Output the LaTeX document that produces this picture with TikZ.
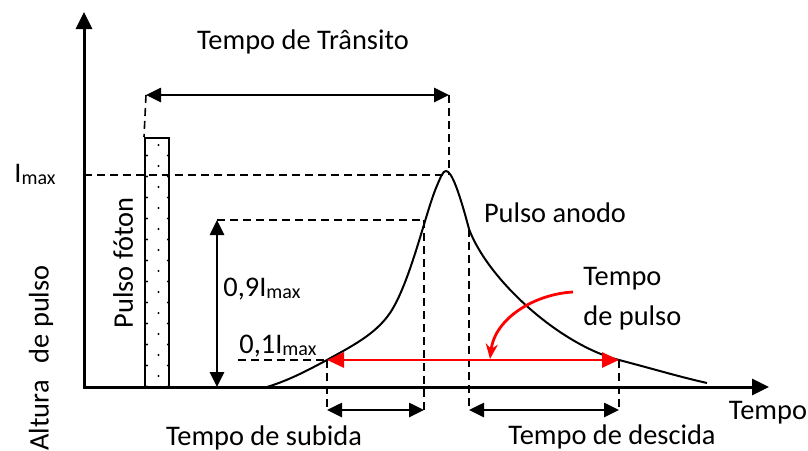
\documentclass[tikz,border=0pt]{standalone}
\usepackage{fontspec}
\setmainfont{Carlito}
\usepackage{tikz}
\usetikzlibrary{
  arrows.meta,
  positioning
}
\definecolor{inkblack}{RGB}{0,0,0}
\definecolor{pulsered}{RGB}{255,0,0}
\newcommand{\lbfont}{\fontsize{14.2}{20}\selectfont}
\newcommand{\Imx}{I\raisebox{-1pt}{\fontsize{10}{11}\selectfont max}}
\tikzset{
  axis/.style={line width=1.5pt,draw=inkblack,
    -{Triangle[length=8.5pt,width=8pt]}},
  guide/.style={line width=0.8pt,draw=inkblack,dash pattern=on 4pt off 2.5pt},
  dimline/.style={line width=1.3pt,draw=inkblack,
    {Triangle[length=7.5pt,width=7pt]}-{Triangle[length=7.5pt,width=7pt]}},
  redline/.style={line width=1.4pt,draw=pulsered,
    {Triangle[length=8.5pt,width=7.5pt]}-{Triangle[length=8.5pt,width=7.5pt]}},
  redbend/.style={line width=1.4pt,draw=pulsered,
    -{Stealth[length=7.5pt,width=6pt]}},
  lab/.style={font=\lbfont,inner sep=1pt,text=inkblack},
  photon/.style={draw=inkblack,line width=1pt,fill=white,
    minimum width=12pt,minimum height=124.5pt,inner sep=0pt}
}

\begin{document}
\begin{tikzpicture}[x=0.5pt,y=-0.5pt]
  \useasboundingbox (0,0) rectangle (808,450);
  % axes
  \coordinate (o) at (84,387);
  \coordinate (ytop) at (84,12);
  \coordinate (xend) at (769,387);
  \draw[axis] (o)--(ytop);
  \draw[axis] ([xshift=-0.75pt]o)--(xend);
  % photon pulse
  \node[photon] (pf) at (157,262.5) {};
  \foreach \k in {0,...,11}{
    \fill (158.5,145+21*\k) circle (0.6pt);
    \fill (147,155.5+21*\k) circle (0.6pt);
    \fill (168,155.5+21*\k) circle (0.6pt);
  }
  % anode pulse
  \coordinate (a0) at (267,387);
  \coordinate (a10) at (327,360);
  \coordinate (a90) at (424,220);
  \coordinate (pk) at (446,171);
  \coordinate (b90) at (469,229);
  \coordinate (b10) at (619,360);
  \coordinate (b0) at (707,383);
  \draw[line width=1pt] (a0) .. controls (290,380) and (310,369) .. (a10)
    .. controls (350,347) and (375,335) .. (390,313)
    .. controls (410,283) and (425,215) .. (436,188)
    .. controls (441,176) and (443,171) .. (pk)
    .. controls (452,171) and (460,195) .. (b90)
    .. controls (488,280) and (560,345) .. (b10)
    .. controls (650,368) and (680,377) .. (b0);
  % helper points
  \coordinate (tl) at (146,95);
  \coordinate (tr) at (449,95);
  \coordinate (imx) at (84,175);
  \coordinate (d90) at (217,220);
  \coordinate (d90b) at (217,387);
  \coordinate (d10) at (238,360);
  \coordinate (r1) at (327,410);
  \coordinate (r2) at (424,410);
  \coordinate (f1) at (469,410);
  \coordinate (f2) at (619,410);
  \coordinate (rb) at (573,292);
  \coordinate (re) at (490,359);
  % guides
  \draw[guide] (tl)--(pf.north west);
  \draw[guide] (tr)--(449,175);
  \draw[guide] (imx)--(443,175);
  \draw[guide] (d90)--(a90);
  \draw[guide] (d10)--(a10);
  \draw[guide] (a10)--(r1);
  \draw[guide] (a90)--(r2);
  \draw[guide] (b90)--(f1);
  \draw[guide] (b10)--(f2);
  % dimensions
  \draw[dimline] (tl)--(tr);
  \draw[dimline] (d90)--(d90b);
  \draw[dimline] (r1)--(r2);
  \draw[dimline] (f1)--(f2);
  \draw[redline] (a10)--(b10);
  \draw[redbend] (rb) .. controls (535,294) and (495,318) .. (re);
  % labels
  \node[lab] (ttr) at (303,42) {Tempo de Trânsito};
  \node[lab,anchor=base west] (limx) at (12,182) {\Imx};
  \node[lab,anchor=base west] (l90) at (221,296) {0,9\Imx};
  \node[lab,anchor=base west] (l10) at (237,353) {0,1\Imx};
  \node[lab] (pan) at (555,213) {Pulso anodo};
  \node[lab,align=left,anchor=west] (tpl) at (581,299) {Tempo\\de pulso};
  \node[lab,anchor=base] (tsub) at (264,445) {Tempo de subida};
  \node[lab,anchor=base] (tdes) at (612,444) {Tempo de descida};
  \node[lab] (tx) at (768,413) {Tempo};
  \node[lab,rotate=90] (ty) at (41,358) {Altura\hspace{0.6em}de pulso};
  \node[lab,rotate=90] (tpf) at (123,263) {Pulso fóton};
\end{tikzpicture}
\end{document}
